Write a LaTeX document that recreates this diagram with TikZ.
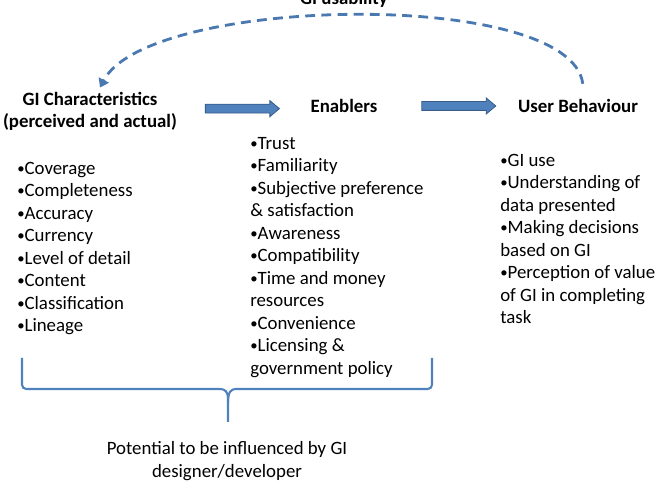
\documentclass[tikz,border=0pt]{standalone}
\usepackage{fontspec}
\setmainfont{Carlito}
\usetikzlibrary{shapes.arrows, arrows.meta, positioning}

\definecolor{flowblue}{HTML}{4F81BD}
\definecolor{flowedge}{HTML}{385D8A}
\definecolor{loopblue}{HTML}{4A78B0}

% smaller list bullet
\newcommand{\itemdot}{\raisebox{0.9pt}{\fontsize{10.5}{10.5}\selectfont •}}

\begin{document}
\begin{tikzpicture}[
    head/.style={font=\bfseries\fontsize{13.4}{15.8}\selectfont, align=center, inner sep=0pt},
    items/.style={font=\fontsize{13.4}{16}\selectfont, align=left, anchor=north west, inner sep=0pt},
    flow/.style={single arrow, minimum height=1.85cm, inner xsep=0pt, inner ysep=0.1cm, single arrow head extend=0.09cm, single arrow tip angle=80, fill=flowblue, draw=flowedge, line width=0.6pt},
    usability/.style={dash pattern=on 7pt off 4.5pt, line width=2pt, color=loopblue, -{Triangle[width=8pt,length=6pt]}},
    bracket/.style={line width=1.5pt, color=flowblue, rounded corners=3pt}
]
\useasboundingbox (0,0) rectangle (16.775,12.25);

\node (title) [head, anchor=base] at (8.6,12.13) {GI usability};

\node (gichar) [head] at (2.25,9.475) {GI Characteristics\\(perceived and actual)};
\node (enablers) [head] at (8.6,9.6) {Enablers};
\node (behaviour) [head] at (14.45,9.6) {User Behaviour};

\path (gichar.east) -- node[flow, pos=0.47] {} (enablers.west);
\path (enablers.east) -- node[flow, pos=0.56] {} (behaviour.west);

\draw [usability] ([shift={(0.12,0.38)}]behaviour.north) .. controls +(-0.3,2.4) and +(1.2,2.3) .. ([shift={(0.25,0.1)}]gichar.north);

\node (gilist) [items] at (0.425,8.2) {\itemdot Coverage\\\itemdot Completeness\\\itemdot Accuracy\\\itemdot Currency\\\itemdot Level of detail\\\itemdot Content\\\itemdot Classification\\\itemdot Lineage};
\node (enlist) [items] at (6.25,8.825) {\itemdot Trust\\\itemdot Familiarity\\\itemdot Subjective preference\\\& satisfaction\\\itemdot Awareness\\\itemdot Compatibility\\\itemdot Time and money\\resources\\\itemdot Convenience\\\itemdot Licensing \&\\government policy};
\node (ublist) [items] at (12.5,8.4) {\itemdot GI use\\\itemdot Understanding of\\data presented\\\itemdot Making decisions\\based on GI\\\itemdot Perception of value\\of GI in completing\\task};

% bracket under the first two columns
\draw [bracket] (0.55,3.3) -- (0.55,2.525) -- (5.4,2.525) .. controls (5.62,2.525) and (5.7,2.45) .. (5.7,2.2) -- (5.7,1.7);
\draw [bracket] (10.8,3.3) -- (10.8,2.525) -- (6.0,2.525) .. controls (5.78,2.525) and (5.7,2.45) .. (5.7,2.2);

\node (potential) [font=\fontsize{13.4}{16.3}\selectfont, align=center, inner sep=0pt] at (5.675,0.725) {Potential to be influenced by GI\\designer/developer};

\end{tikzpicture}
\end{document}
